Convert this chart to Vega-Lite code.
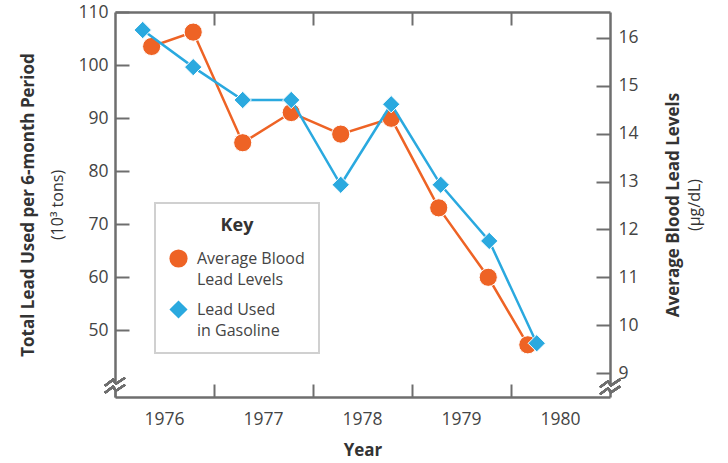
{
  "$schema": "https://vega.github.io/schema/vega-lite/v6.json",
  "width": 495,
  "height": 385,
  "autosize": {"type": "none"},
  "padding": {"left": 115, "top": 12, "right": 118, "bottom": 66},
  "background": "white",
  "config": {
    "font": "Open Sans",
    "view": {"stroke": null},
    "style": {"guide-label": {"lineHeight": 21}},
    "axis": {
      "grid": false,
      "domainColor": "#6e6e6e",
      "domainWidth": 2.5,
      "tickColor": "#6e6e6e",
      "tickWidth": 2,
      "labelColor": "#444444",
      "labelFont": "Open Sans",
      "labelFontSize": 17.5,
      "labelFlush": false,
      "labelOverlap": false,
      "titleColor": "#333333",
      "titleFont": "Open Sans",
      "titleFontSize": 17,
      "titleFontWeight": "bold"
    },
    "legend": {
      "orient": "none",
      "legendX": 40,
      "legendY": 191,
      "padding": 14,
      "strokeColor": "#d0d0d0",
      "strokeWidth": 2,
      "fillColor": "white",
      "titleAnchor": "middle",
      "titleFont": "Open Sans",
      "titleFontSize": 18,
      "titleFontWeight": "bold",
      "titleColor": "#333333",
      "titlePadding": 14,
      "labelFont": "Open Sans",
      "labelFontSize": 16,
      "labelColor": "#444444",
      "labelLimit": 300,
      "labelOffset": 9,
      "labelBaseline": "middle",
      "symbolSize": 330,
      "symbolStrokeWidth": 0,
      "rowPadding": 12
    }
  },
  "data": {
    "values": [
      {"t": 1976.37, "series": "Average Blood Lead Levels", "value": 15.82},
      {"t": 1976.79, "series": "Average Blood Lead Levels", "value": 16.12},
      {"t": 1977.29, "series": "Average Blood Lead Levels", "value": 13.81},
      {"t": 1977.78, "series": "Average Blood Lead Levels", "value": 14.44},
      {"t": 1978.28, "series": "Average Blood Lead Levels", "value": 13.99},
      {"t": 1978.79, "series": "Average Blood Lead Levels", "value": 14.32},
      {"t": 1979.27, "series": "Average Blood Lead Levels", "value": 12.45},
      {"t": 1979.77, "series": "Average Blood Lead Levels", "value": 11.0},
      {"t": 1980.17, "series": "Average Blood Lead Levels", "value": 9.59},
      {"t": 1976.28, "series": "Lead Used in Gasoline", "value": 106.6},
      {"t": 1976.79, "series": "Lead Used in Gasoline", "value": 99.6},
      {"t": 1977.29, "series": "Lead Used in Gasoline", "value": 93.4},
      {"t": 1977.78, "series": "Lead Used in Gasoline", "value": 93.4},
      {"t": 1978.28, "series": "Lead Used in Gasoline", "value": 77.4},
      {"t": 1978.79, "series": "Lead Used in Gasoline", "value": 92.6},
      {"t": 1979.29, "series": "Lead Used in Gasoline", "value": 77.4},
      {"t": 1979.78, "series": "Lead Used in Gasoline", "value": 66.8},
      {"t": 1980.26, "series": "Lead Used in Gasoline", "value": 47.5}
    ]
  },
  "layer": [
    {
      "transform": [{"filter": "datum.series === 'Average Blood Lead Levels'"}],
      "mark": {"type": "line", "color": "#EE6325", "strokeWidth": 2.5},
      "encoding": {
        "x": {
          "field": "t", "type": "quantitative",
          "scale": {"domain": [1976, 1981], "nice": false, "zero": false},
          "axis": {
            "orient": "bottom",
            "values": [1976, 1977, 1978, 1979, 1980],
            "format": "d",
            "tickSize": -13,
            "labelOffset": 49,
            "labelPadding": 26,
            "title": "Year",
            "titlePadding": 15
          }
        },
        "y": {
          "field": "value", "type": "quantitative",
          "scale": {"domain": [8.5, 16.54], "nice": false, "zero": false},
          "axis": {
            "orient": "right",
            "values": [9, 10, 11, 12, 13, 14, 15, 16],
            "tickSize": -14,
            "labelPadding": 22,
            "title": "Average Blood Lead Levels",
            "titleAngle": 270,
            "titleBaseline": "top",
            "titlePadding": 27
          }
        }
      }
    },
    {
      "transform": [{"filter": "datum.series === 'Average Blood Lead Levels'"}],
      "mark": {"type": "point", "filled": true, "opacity": 1, "size": 330, "stroke": "white", "strokeWidth": 1},
      "encoding": {
        "x": {
          "field": "t", "type": "quantitative",
          "scale": {"domain": [1976, 1981], "nice": false, "zero": false},
          "axis": {
            "orient": "top",
            "values": [1977, 1978, 1979, 1980],
            "labels": false,
            "tickSize": -13,
            "title": null
          }
        },
        "y": {
          "field": "value", "type": "quantitative",
          "scale": {"domain": [8.5, 16.54], "nice": false, "zero": false},
          "axis": {
            "orient": "right",
            "labels": false,
            "ticks": false,
            "domain": false,
            "title": "(μg/dL)",
            "titleFontWeight": "normal",
            "titleFontSize": 16,
            "titleAngle": 270,
            "titleBaseline": "top",
            "titlePadding": 76
          }
        },
        "color": {
          "field": "series", "type": "nominal",
          "scale": {"domain": ["Average Blood Lead Levels", "Lead Used in Gasoline"], "range": ["#EE6325", "#2AA9DF"]},
          "legend": {"title": "Key", "labelExpr": "datum.label === 'Average Blood Lead Levels' ? ['Average Blood', 'Lead Levels'] : ['Lead Used', 'in Gasoline']", "encode": {"labels": {"update": {"lineHeight": {"value": 21}}}}}
        },
        "shape": {
          "field": "series", "type": "nominal",
          "scale": {"domain": ["Average Blood Lead Levels", "Lead Used in Gasoline"], "range": ["circle", "diamond"]},
          "legend": {"title": "Key", "labelExpr": "datum.label === 'Average Blood Lead Levels' ? ['Average Blood', 'Lead Levels'] : ['Lead Used', 'in Gasoline']", "encode": {"labels": {"update": {"lineHeight": {"value": 21}}}}}
        }
      }
    },
    {
      "transform": [{"filter": "datum.series === 'Lead Used in Gasoline'"}],
      "mark": {"type": "line", "color": "#2AA9DF", "strokeWidth": 2.5},
      "encoding": {
        "x": {
          "field": "t", "type": "quantitative",
          "scale": {"domain": [1976, 1981], "nice": false, "zero": false},
          "axis": null
        },
        "y": {
          "field": "value", "type": "quantitative",
          "scale": {"domain": [37.36, 110], "nice": false, "zero": false},
          "axis": {
            "orient": "left",
            "values": [50, 60, 70, 80, 90, 100, 110],
            "tickSize": -14,
            "labelPadding": 21,
            "title": "(10³ tons)",
            "titleFontWeight": "normal",
            "titleFontSize": 16,
            "titlePadding": 12
          }
        }
      }
    },
    {
      "transform": [{"filter": "datum.series === 'Lead Used in Gasoline'"}],
      "mark": {"type": "point", "filled": true, "opacity": 1, "size": 300, "stroke": "white", "strokeWidth": 1},
      "encoding": {
        "x": {
          "field": "t", "type": "quantitative",
          "scale": {"domain": [1976, 1981], "nice": false, "zero": false},
          "axis": null
        },
        "y": {
          "field": "value", "type": "quantitative",
          "scale": {"domain": [37.36, 110], "nice": false, "zero": false},
          "axis": {
            "orient": "left",
            "labels": false,
            "ticks": false,
            "domain": false,
            "title": "Total Lead Used per 6-month Period",
            "titlePadding": 78
          }
        },
        "color": {
          "field": "series", "type": "nominal",
          "scale": {"domain": ["Average Blood Lead Levels", "Lead Used in Gasoline"], "range": ["#EE6325", "#2AA9DF"]},
          "legend": {"title": "Key", "labelExpr": "datum.label === 'Average Blood Lead Levels' ? ['Average Blood', 'Lead Levels'] : ['Lead Used', 'in Gasoline']", "encode": {"labels": {"update": {"lineHeight": {"value": 21}}}}}
        },
        "shape": {
          "field": "series", "type": "nominal",
          "scale": {"domain": ["Average Blood Lead Levels", "Lead Used in Gasoline"], "range": ["circle", "diamond"]},
          "legend": {"title": "Key", "labelExpr": "datum.label === 'Average Blood Lead Levels' ? ['Average Blood', 'Lead Levels'] : ['Lead Used', 'in Gasoline']", "encode": {"labels": {"update": {"lineHeight": {"value": 21}}}}}
        }
      }
    },
    {
      "mark": {"type": "point", "shape": "M-1,-0.1 L-0.2,-0.7 L0.1,-0.3 L1,-0.9 L1,-0.2 L0.1,0.4 L-0.2,0 L-1,0.6 Z", "size": 400, "filled": true, "fill": "white", "strokeWidth": 0, "opacity": 1},
      "encoding": {
        "x": {"datum": 1976, "type": "quantitative", "scale": {"domain": [1976, 1981], "nice": false, "zero": false}, "axis": null},
        "y": {"datum": 39.3, "type": "quantitative", "scale": {"domain": [37.36, 110], "nice": false, "zero": false}, "axis": null}
      }
    },
    {
      "mark": {"type": "point", "shape": "M-1,-0.1 L-0.2,-0.7 L0.1,-0.3 L1,-0.9 M-1,0.6 L-0.2,0 L0.1,0.4 L1,-0.2", "size": 400, "filled": false, "stroke": "#6e6e6e", "strokeWidth": 2, "opacity": 1},
      "encoding": {
        "x": {"datum": 1976, "type": "quantitative", "scale": {"domain": [1976, 1981], "nice": false, "zero": false}, "axis": null},
        "y": {"datum": 39.3, "type": "quantitative", "scale": {"domain": [37.36, 110], "nice": false, "zero": false}, "axis": null}
      }
    },
    {
      "mark": {"type": "point", "shape": "M-1,-0.1 L-0.2,-0.7 L0.1,-0.3 L1,-0.9 L1,-0.2 L0.1,0.4 L-0.2,0 L-1,0.6 Z", "size": 400, "filled": true, "fill": "white", "strokeWidth": 0, "opacity": 1},
      "encoding": {
        "x": {"datum": 1981, "type": "quantitative", "scale": {"domain": [1976, 1981], "nice": false, "zero": false}, "axis": null},
        "y": {"datum": 39.0, "type": "quantitative", "scale": {"domain": [37.36, 110], "nice": false, "zero": false}, "axis": null}
      }
    },
    {
      "mark": {"type": "point", "shape": "M-1,-0.1 L-0.2,-0.7 L0.1,-0.3 L1,-0.9 M-1,0.6 L-0.2,0 L0.1,0.4 L1,-0.2", "size": 400, "filled": false, "stroke": "#6e6e6e", "strokeWidth": 2, "opacity": 1},
      "encoding": {
        "x": {"datum": 1981, "type": "quantitative", "scale": {"domain": [1976, 1981], "nice": false, "zero": false}, "axis": null},
        "y": {"datum": 39.0, "type": "quantitative", "scale": {"domain": [37.36, 110], "nice": false, "zero": false}, "axis": null}
      }
    }
  ],
  "resolve": {
    "scale": {"y": "independent"},
    "axis": {"x": "independent", "y": "independent"}
  }
}
